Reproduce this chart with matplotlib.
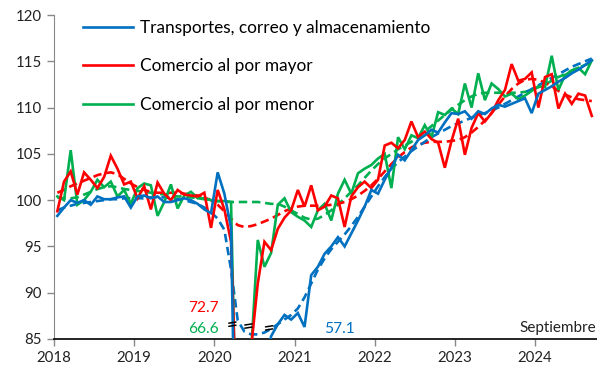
import numpy as np
import matplotlib
matplotlib.use("Agg")
import matplotlib.pyplot as plt

plt.rcParams['font.family'] = ['Lato', 'DejaVu Sans']

# Monthly index values, Jan 2018 - Sep 2024
start_year = 2018
n_months = 81

transportes = [
    98.3, 99.2, 100.0, 99.7, 100.0, 99.5, 100.4, 100.1, 100.1, 100.3, 100.4, 99.2,
    100.4, 100.5, 100.2, 100.4, 99.8, 99.8, 100.0, 100.2, 100.0, 99.6, 99.0, 98.6,
    103.0, 100.7, 97.0, 57.1, 62.0, 70.0, 77.0, 82.0, 85.3, 86.6, 87.6, 87.1,
    87.8, 86.3, 91.9, 92.8, 94.2, 95.0, 96.0, 95.0, 96.4, 97.8, 99.3, 101.1,
    100.7, 102.2, 103.5, 104.9, 104.3, 105.4, 106.5, 107.0, 107.6, 107.3, 108.4, 109.4,
    109.3, 109.6, 108.8, 109.6, 109.3, 109.9, 110.3, 110.1, 110.4, 110.7, 111.0, 109.4,
    111.5, 111.9, 112.3, 112.8, 113.2, 113.7, 114.1, 114.6, 115.1,
]
transportes_tend = [
    98.9, 99.2, 99.4, 99.6, 99.7, 99.8, 99.9, 100.0, 100.1, 100.1, 100.2, 100.2,
    100.2, 100.2, 100.3, 100.3, 100.3, 100.2, 100.1, 100.0, 99.8, 99.6, 99.2, 98.7,
    98.0, 96.8, 92.5, 87.0, 85.8, 85.5, 85.5, 85.7, 86.1, 86.6, 87.1, 87.6,
    88.3, 89.5, 91.0, 92.5, 93.7, 94.7, 95.5, 96.3, 97.2, 98.2, 99.3, 100.4,
    101.5, 102.5, 103.4, 104.1, 104.7, 105.3, 105.8, 106.3, 106.8, 107.2, 107.6, 108.0,
    108.3, 108.6, 108.9, 109.2, 109.4, 109.7, 110.0, 110.4, 110.8, 111.2, 111.6, 112.0,
    112.4, 112.8, 113.2, 113.6, 114.0, 114.4, 114.7, 115.0, 115.3,
]
mayor = [
    98.8, 102.0, 103.1, 100.6, 103.0, 102.2, 101.3, 102.5, 104.8, 103.4, 101.7, 102.0,
    100.2, 101.5, 99.0, 101.9, 100.7, 100.0, 101.1, 100.6, 100.5, 100.4, 100.8, 97.0,
    101.1, 99.0, 95.5, 72.7, 77.0, 84.0, 91.0, 95.5, 94.6, 96.9, 98.1, 98.9,
    101.1, 99.3, 101.6, 98.9, 99.3, 100.5, 100.2, 97.1, 100.4, 101.4, 102.0, 101.3,
    102.2, 105.9, 106.2, 105.6, 106.5, 108.5, 106.8, 107.4, 106.6, 106.2, 103.5, 106.4,
    108.8, 104.9, 107.8, 109.4, 108.5, 109.4, 110.8, 111.9, 114.7, 112.9, 113.1, 113.8,
    110.0, 113.3, 113.6, 109.9, 111.5, 110.4, 111.5, 111.3, 109.1,
]
mayor_tend = [
    100.8, 101.1, 101.5, 101.8, 102.1, 102.4, 102.7, 102.9, 103.0, 102.8, 102.3, 101.8,
    101.4, 101.1, 100.9, 100.8, 100.8, 100.8, 100.8, 100.7, 100.6, 100.5, 100.3, 100.0,
    99.5, 98.8, 98.0, 97.3, 97.1, 97.2, 97.4, 97.7, 98.0, 98.4, 98.8, 99.1,
    99.3, 99.4, 99.4, 99.4, 99.4, 99.5, 99.6, 99.8, 100.1, 100.5, 101.0, 101.6,
    102.3, 103.1, 103.9, 104.6, 105.2, 105.7, 106.0, 106.2, 106.3, 106.3, 106.3, 106.4,
    106.5, 106.8, 107.3, 107.9, 108.6, 109.4, 110.3, 111.2, 112.0, 112.6, 113.0, 113.1,
    113.0, 112.7, 112.3, 111.8, 111.4, 111.1, 110.9, 110.8, 110.7,
]
menor = [
    100.4, 100.0, 105.4, 99.5, 100.0, 100.9, 102.2, 101.4, 102.0, 100.4, 101.1, 99.6,
    101.3, 101.8, 101.6, 98.3, 99.8, 101.7, 99.1, 100.5, 100.9, 100.2, 100.2, 100.0,
    99.9, 99.9, 99.8, 66.6, 72.0, 83.5, 95.7, 92.8, 94.3, 99.5, 100.2, 98.7,
    98.2, 97.8, 97.1, 98.9, 99.6, 97.8, 100.7, 102.2, 100.7, 102.9, 103.4, 103.8,
    104.5, 105.0, 101.3, 106.8, 105.5, 107.0, 106.7, 108.1, 106.8, 109.5, 109.2, 109.9,
    109.3, 112.6, 110.0, 113.7, 110.8, 112.6, 112.0, 111.2, 111.5, 110.9, 111.3, 111.8,
    112.3, 112.2, 115.6, 111.9, 113.5, 114.0, 114.3, 113.6, 115.1,
]
menor_tend = [
    100.3, 100.2, 100.2, 100.3, 100.6, 100.9, 101.2, 101.4, 101.5, 101.4, 101.2, 101.1,
    101.0, 100.9, 100.8, 100.7, 100.6, 100.5, 100.4, 100.4, 100.3, 100.2, 100.1, 100.0,
    99.9, 99.85, 99.8, 99.8, 99.8, 99.8, 99.8, 99.7, 99.6, 99.6, 99.3, 98.9,
    98.5, 98.1, 97.9, 98.0, 98.4, 98.9, 99.5, 100.2, 100.9, 101.6, 102.4, 103.2,
    103.9, 104.5, 105.0, 105.5, 105.9, 106.3, 106.8, 107.4, 108.0, 108.6, 109.2, 109.8,
    110.3, 110.8, 111.2, 111.5, 111.6, 111.6, 111.6, 111.6, 111.6, 111.6, 111.7, 111.9,
    112.2, 112.5, 112.9, 113.3, 113.6, 114.0, 114.3, 114.6, 114.9,
]

labels = ["Transportes, correo y almacenamiento",
          "Comercio al por mayor",
          "Comercio al por menor"]
colors = ["#0070C0", "#FF0000", "#00B050"]
year_ticks = [2018, 2019, 2020, 2021, 2022, 2023, 2024]
y_ticks = [85, 90, 95, 100, 105, 110, 115, 120]

# Minimum values of the 2020 drop (off the visible scale)
min_labels = [("72.7", "#FF0000"), ("66.6", "#00B050"), ("57.1", "#0070C0")]

# month centres as decimal years
x = start_year + (np.arange(n_months) + 0.5) / 12.0

fig = plt.figure(figsize=(5.97, 3.77), dpi=100)
ax = fig.add_axes([54 / 597, 1 - 339 / 377, 1 - 54 / 597, 324 / 377])

lw = 1.9
series = [transportes, mayor, menor]
trends = [transportes_tend, mayor_tend, menor_tend]
order = [2, 1, 0]
for k in order:
    ax.plot(x, trends[k], color=colors[k], lw=lw, ls=(0, (3.2, 1.8)), zorder=2)
handles = {}
for k in order:
    (h,) = ax.plot(x, series[k], color=colors[k], lw=lw, zorder=3,
                   solid_joinstyle='miter')
    handles[k] = h

ax.set_ylim(85, 120)
ax.set_xlim(2018, 2018 + 543 / 80.17)
ax.set_yticks(y_ticks)
ax.set_xticks(year_ticks)
ax.tick_params(axis='both', labelsize=10.8, direction='out', length=5,
               width=1, colors='#222222')
ax.tick_params(axis='y', color='#888888')
ax.tick_params(axis='x', color='#888888', pad=4)
for s in ['top', 'right']:
    ax.spines[s].set_visible(False)
ax.spines['left'].set_color('#888888')
ax.spines['bottom'].set_color('black')
ax.spines['bottom'].set_linewidth(1.2)

leg = ax.legend([handles[0], handles[1], handles[2]], labels,
                loc='upper left', bbox_to_anchor=(0.04, 1.006), frameon=False,
                fontsize=12.4, handlelength=2.95, handletextpad=0.38,
                labelspacing=1.3, borderaxespad=0)

# axis-break marks near the 2020 drop: two short stacked strokes each
for xb, yb in [(2020 + 2.7 / 12, 86.6), (2020 + 5.1 / 12, 86.4),
               (2020 + 8.2 / 12, 86.2)]:
    for dy in (0.17, -0.17):
        ax.annotate("", xy=(xb + 0.045, yb + dy + 0.06),
                    xytext=(xb - 0.045, yb + dy - 0.06),
                    arrowprops=dict(arrowstyle='-', color='black', lw=1.1,
                                    shrinkA=0, shrinkB=0),
                    zorder=6, annotation_clip=False)

ax.text(2020 + 0.6 / 12, 88.3, min_labels[0][0], color=min_labels[0][1],
        ha='right', va='center', fontsize=11.2)
ax.text(2020 + 0.6 / 12, 86.1, min_labels[1][0], color=min_labels[1][1],
        ha='right', va='center', fontsize=11.2)
ax.text(2021 + 6.7 / 12, 86.1, min_labels[2][0], color=min_labels[2][1],
        ha='center', va='center', fontsize=11.2)

ax.text(0.998, 0.035, "Septiembre", transform=ax.transAxes, ha='right',
        va='center', fontsize=11, color='#222222')

fig.savefig("out.png", dpi=100)
